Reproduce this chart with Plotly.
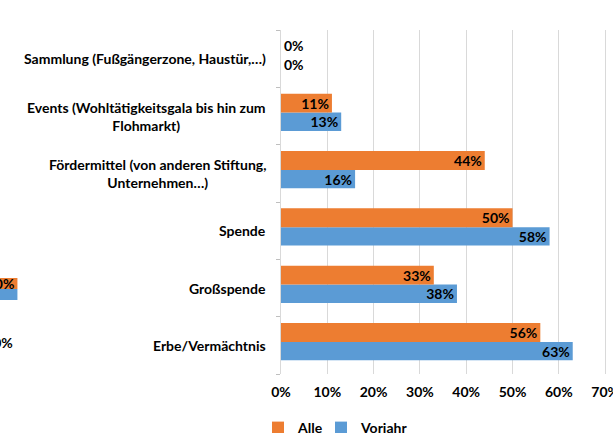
import plotly.graph_objects as go

# ---- data ----
categories = [
    "Erbe/Vermächtnis",
    "Großspende",
    "Spende",
    "Fördermittel (von anderen Stiftung,<br>Unternehmen…)",
    "Events (Wohltätigkeitsgala bis hin zum<br>Flohmarkt)",
    "Sammlung (Fußgängerzone, Haustür,…)",
]
alle = [56, 33, 50, 44, 11, 0]
vorjahr = [63, 38, 58, 16, 13, 0]
x_ticks = [0, 10, 20, 30, 40, 50, 60, 70]
x_tick_labels = ["0%", "10%", "20%", "30%", "40%", "50%", "60%", "70%"]

# fragment of the neighbouring chart visible at the left edge
frag_cat = ["Gesamt"]
frag_alle = [100]
frag_vorjahr = [100]
frag_tick_label = "100%"

ORANGE = "#ED7D31"
BLUE = "#5B9BD5"
FONT = "Lato"
GRID = "#D9D9D9"
FS = 14
tf = dict(family=FONT, size=FS, color="black", weight="bold")


def positions(vals):
    return ["outside" if v == 0 else "inside" for v in vals]


def labels(vals):
    return [f"{v}%" for v in vals]


fig = go.Figure()
fig.add_bar(y=categories, x=vorjahr, orientation="h", name="Vorjahr",
            marker=dict(color=BLUE, line=dict(width=0)),
            width=0.32, offset=-0.26,
            text=labels(vorjahr), texttemplate="%{text}",
            textposition=positions(vorjahr),
            insidetextanchor="end", constraintext="none", textangle=0,
            textfont=tf, legend="legend2", cliponaxis=False)
fig.add_bar(y=categories, x=alle, orientation="h", name="Alle",
            marker=dict(color=ORANGE, line=dict(width=0)),
            width=0.33, offset=0.06,
            text=labels(alle), texttemplate="%{text}",
            textposition=positions(alle),
            insidetextanchor="end", constraintext="none", textangle=0,
            textfont=tf, legend="legend", cliponaxis=False)

# left-edge fragment
fig.add_bar(y=frag_cat, x=frag_vorjahr, orientation="h", xaxis="x2", yaxis="y2",
            marker=dict(color=BLUE, line=dict(width=0)), showlegend=False,
            texttemplate="")
fig.add_bar(y=frag_cat, x=frag_alle, orientation="h", xaxis="x2", yaxis="y2",
            marker=dict(color=ORANGE, line=dict(width=0)), showlegend=False,
            text=labels(frag_alle), texttemplate="%{text}",
            textposition="inside", insidetextanchor="end",
            constraintext="none", textangle=0, textfont=tf, cliponaxis=False)

W, H = 613, 433
ML, MR, MT, MB = 0, 6, 30, 59
PW = W - ML - MR
PH = H - MT - MB


def px_x(px):
    return (px - ML) / PW


def px_y(py):
    return (H - MB - py) / PH


annotations = []
for c in categories:
    annotations.append(dict(x=px_x(268), xref="paper", y=c, yref="y",
                            text=c, showarrow=False, xanchor="right",
                            align="center", font=tf))
annotations.append(dict(x=px_x(15), xref="paper", y=px_y(342), yref="paper",
                        text=frag_tick_label, showarrow=False, xanchor="right",
                        yanchor="middle", font=tf))

legend_common = dict(orientation="h", xanchor="left", y=px_y(428),
                     yanchor="middle", font=tf, bgcolor="rgba(0,0,0,0)")

fig.update_layout(
    width=W, height=H,
    margin=dict(l=ML, r=MR, t=MT, b=MB, autoexpand=False),
    paper_bgcolor="white", plot_bgcolor="white",
    barmode="group", bargap=0.37, bargroupgap=0,
    font=tf,
    showlegend=True,
    legend=dict(x=px_x(258), **legend_common),
    legend2=dict(x=px_x(321), **legend_common),
    annotations=annotations,
    xaxis=dict(domain=[px_x(281), 1], range=[0, 70.4], tickvals=x_ticks,
               ticktext=x_tick_labels, showgrid=True, gridcolor=GRID,
               gridwidth=1, zeroline=False, showline=False, ticks="",
               ticklabelstandoff=8, ticklabeloverflow="allow", tickfont=tf,
               automargin=False),
    yaxis=dict(domain=[0, 1], categoryorder="array", categoryarray=categories,
               range=[-0.5, 5.5], showticklabels=False, ticks="outside",
               tickson="boundaries", ticklen=4, tickcolor="#BFBFBF",
               showline=True, linecolor=GRID, showgrid=False, zeroline=False,
               automargin=False),
    xaxis2=dict(domain=[0, px_x(18)], range=[40, 102], tickvals=[100],
                showticklabels=False, showgrid=True, gridcolor=GRID,
                zeroline=False, showline=False, ticks="", anchor="y2",
                automargin=False),
    yaxis2=dict(domain=[px_y(310), 1], range=[-0.6, 7.4], showticklabels=False,
                showgrid=False, zeroline=False, showline=False, ticks="",
                anchor="x2", automargin=False),
)

fig.write_html("out.html",
               config={"displayModeBar": False},
               post_script="document.body.style.margin='0px';"
                           "document.body.style.overflow='hidden';")
